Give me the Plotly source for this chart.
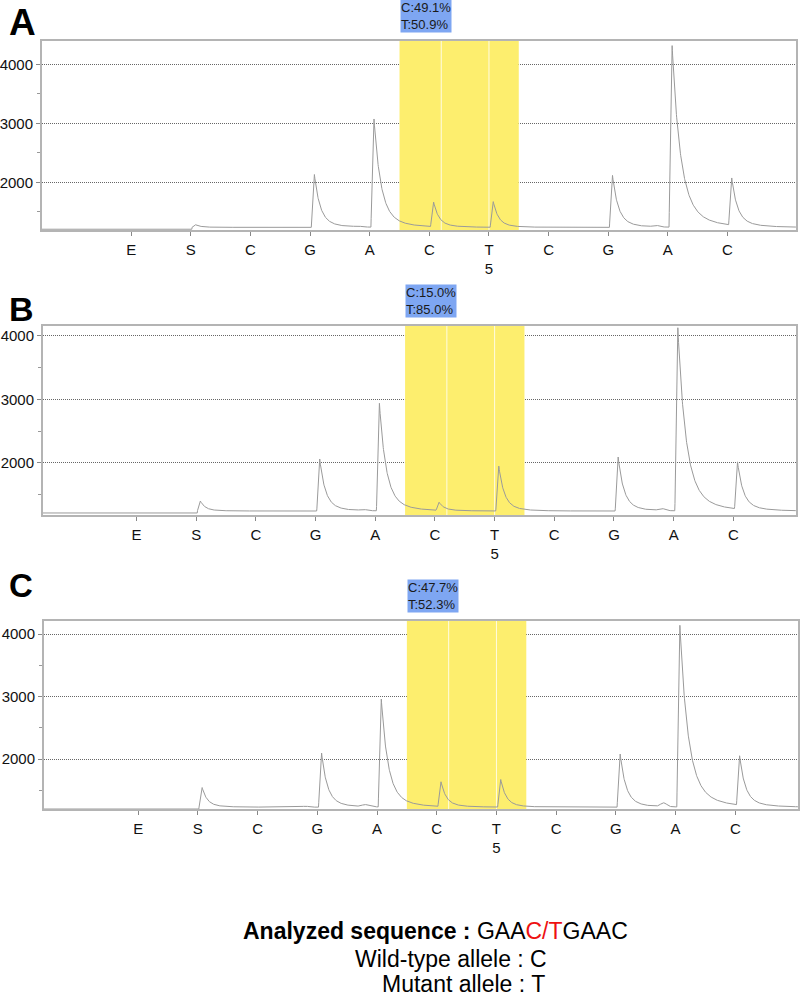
import numpy as np
import plotly.graph_objects as go

# ---------------- data ----------------
DISPENSATION = ["E", "S", "C", "G", "A", "C", "T", "C", "G", "A", "C"]
TICK_TEXT = ["E", "S", "C", "G", "A", "C", "T<br>5", "C", "G", "A", "C"]
POSITIONS = [1, 2, 3, 4, 5, 6, 7, 8, 9, 10, 11]

# peak top values (signal units) at each dispensation
PEAKS_A = [0, 1254, 0, 2150, 3100, 1660, 1680, 0, 2135, 4355, 2050]
PEAKS_B = [0, 1370, 0, 2063, 2937, 1370, 1950, 0, 2094, 4126, 1984]
PEAKS_C = [0, 1520, 0, 2112, 2984, 1632, 1680, 0, 2096, 4176, 2032]

# baseline before / after the substrate (S) dispensation
BASE_A = [1205, 1237]
BASE_B = [1213, 1244]
BASE_C = [1200, 1230]

# small pre-peak bumps (position, top value)
BUMPS_A = [(4.8, 1250), (9.8, 1262)]
BUMPS_B = [(4.8, 1262), (9.8, 1275)]
BUMPS_C = [(3.8, 1245), (4.8, 1262), (9.8, 1290)]

PCT_A = "C:49.1%<br>T:50.9%"
PCT_B = "C:15.0%<br>T:85.0%"
PCT_C = "C:47.7%<br>T:52.3%"

Y_TICKS = [2000, 3000, 4000]

# ---------------- layout geometry (pixels) ----------------
W, H = 800, 994
panels = [
    dict(name="A", peaks=PEAKS_A, base=BASE_A, bumps=BUMPS_A, pct=PCT_A,
         px=(39, 797), py=(41, 230), xr=(-0.50, 12.15), yr=(1192, 4395),
         letter_y=0, letter_size=37),
    dict(name="B", peaks=PEAKS_B, base=BASE_B, bumps=BUMPS_B, pct=PCT_B,
         px=(40, 797), py=(326, 515), xr=(-0.57, 12.05), yr=(1181, 4157),
         letter_y=288, letter_size=34),
    dict(name="C", peaks=PEAKS_C, base=BASE_C, bumps=BUMPS_C, pct=PCT_C,
         px=(41, 799), py=(621, 809), xr=(-0.58, 12.05), yr=(1200, 4208),
         letter_y=565, letter_size=33),
]

YELLOW = (5.5, 7.5)
WHITE_LINES = [6.2, 7.0]

FONT = "Arial, Liberation Sans, sans-serif"
LINE_COLOR = "#9a9a9a"
AXIS_COLOR = "#b4b4b4"
YELLOW_COLOR = "#fdee6e"


def trace_curve(xs, peaks, base, bumps):
    y = np.where(xs < 2.02, base[0], base[1]).astype(float)
    for pos, top in zip(POSITIONS, peaks):
        b = base[0] if pos <= 2 else base[1]
        amp = top - b
        if amp <= 0:
            continue
        tau = max(4.5, 5.5 + 2.5 * (amp - 900) / 2200) / 60.0
        t = xs - (pos + 0.02)
        rise = 0.05
        part = np.zeros_like(xs)
        m1 = (t >= 0) & (t < rise)
        part[m1] = amp * t[m1] / rise
        m2 = t >= rise
        tt = t[m2] - rise
        part[m2] = amp * (0.85 * np.exp(-tt / tau) + 0.15 * np.exp(-tt / (3 * tau)))
        y = y + part
    for pos, top in bumps:
        amp = top - base[1]
        y = y + amp * np.exp(-0.5 * ((xs - pos) / 0.05) ** 2)
    return y


fig = go.Figure()
annotations = []
layout_axes = {}

for i, p in enumerate(panels):
    k = "" if i == 0 else str(i + 1)
    y0, y1 = p["yr"]
    # yellow highlight (drawn as a filled trace: above grid, below the signal)
    fig.add_trace(go.Scatter(
        x=[YELLOW[0], YELLOW[1], YELLOW[1], YELLOW[0], YELLOW[0]],
        y=[y0, y0, y1, y1, y0], mode="lines", fill="toself",
        fillcolor=YELLOW_COLOR, line=dict(width=0, color=YELLOW_COLOR),
        xaxis="x" + k, yaxis="y" + k, showlegend=False, hoverinfo="skip"))
    for wl in WHITE_LINES:
        fig.add_trace(go.Scatter(
            x=[wl, wl], y=[y0, y1], mode="lines",
            line=dict(color="rgba(255,255,255,0.8)", width=1),
            xaxis="x" + k, yaxis="y" + k, showlegend=False, hoverinfo="skip"))
    xs = np.arange(p["xr"][0], p["xr"][1], 0.004)
    ys = trace_curve(xs, p["peaks"], p["base"], p["bumps"])
    fig.add_trace(go.Scatter(x=xs, y=ys, mode="lines",
                             line=dict(color=LINE_COLOR, width=1),
                             xaxis="x" + k, yaxis="y" + k,
                             showlegend=False, hoverinfo="skip"))
    xd = [p["px"][0] / W, p["px"][1] / W]
    yd = [1 - p["py"][1] / H, 1 - p["py"][0] / H]
    layout_axes["xaxis" + k] = dict(
        domain=xd, range=list(p["xr"]), anchor="y" + k,
        tickmode="array", tickvals=POSITIONS, ticktext=TICK_TEXT,
        ticks="outside", ticklen=4, tickcolor="#888", tickwidth=1,
        ticklabelstandoff=1,
        showgrid=False, zeroline=False,
        showline=True, linecolor=AXIS_COLOR, linewidth=1.5, mirror=True,
        tickfont=dict(family=FONT, size=15, color="#111"),
    )
    layout_axes["yaxis" + k] = dict(
        domain=yd, range=list(p["yr"]), anchor="x" + k,
        tickmode="array", tickvals=Y_TICKS,
        ticks="outside", ticklen=4, tickcolor="#888", tickwidth=1,
        showgrid=True, gridcolor="#666", griddash="1px,1px", gridwidth=1,
        minor=dict(tickmode="array", tickvals=[1500, 2500, 3500],
                   ticks="outside", ticklen=3, tickcolor="#999", showgrid=False),
        zeroline=False,
        showline=True, linecolor=AXIS_COLOR, linewidth=1.5, mirror=True,
        tickfont=dict(family=FONT, size=15, color="#111"),
    )
    # percentage box
    annotations.append(dict(
        x=YELLOW[0], xref="x" + k, xanchor="left",
        y=1 - (p["py"][0] - 8) / H, yref="paper", yanchor="bottom",
        text=p["pct"], showarrow=False, align="left",
        bgcolor="#7ea6f2", borderpad=0,
        font=dict(family=FONT, size=13, color="#1a1a1a"),
    ))
    # panel letter
    annotations.append(dict(
        x=4 / W, xref="paper", xanchor="left",
        y=1 - p["letter_y"] / H, yref="paper", yanchor="top",
        text="<b>" + p["name"] + "</b>", showarrow=False,
        font=dict(family=FONT, size=p["letter_size"], color="#000"),
    ))

# bottom captions
annotations.append(dict(
    x=435 / W, xref="paper", xanchor="center", y=1 - 931 / H, yref="paper",
    yanchor="middle", showarrow=False,
    text="<b>Analyzed sequence :</b> GAA<span style='color:#ee1111'>C/T</span>GAAC",
    font=dict(family=FONT, size=23, color="#000")))
annotations.append(dict(
    x=450 / W, xref="paper", xanchor="center", y=1 - 959 / H, yref="paper",
    yanchor="middle", showarrow=False, text="Wild-type allele : C",
    font=dict(family=FONT, size=23, color="#000")))
annotations.append(dict(
    x=463 / W, xref="paper", xanchor="center", y=1 - 984 / H, yref="paper",
    yanchor="middle", showarrow=False, text="Mutant allele : T",
    font=dict(family=FONT, size=23, color="#000")))

fig.update_layout(
    width=W, height=H, margin=dict(l=0, r=0, t=0, b=0),
    paper_bgcolor="white", plot_bgcolor="white",
    annotations=annotations, showlegend=False,
    **layout_axes,
)

fig.write_html("out.html", config={"displayModeBar": False},
               post_script="document.body.style.margin='0';document.body.style.padding='0';")
